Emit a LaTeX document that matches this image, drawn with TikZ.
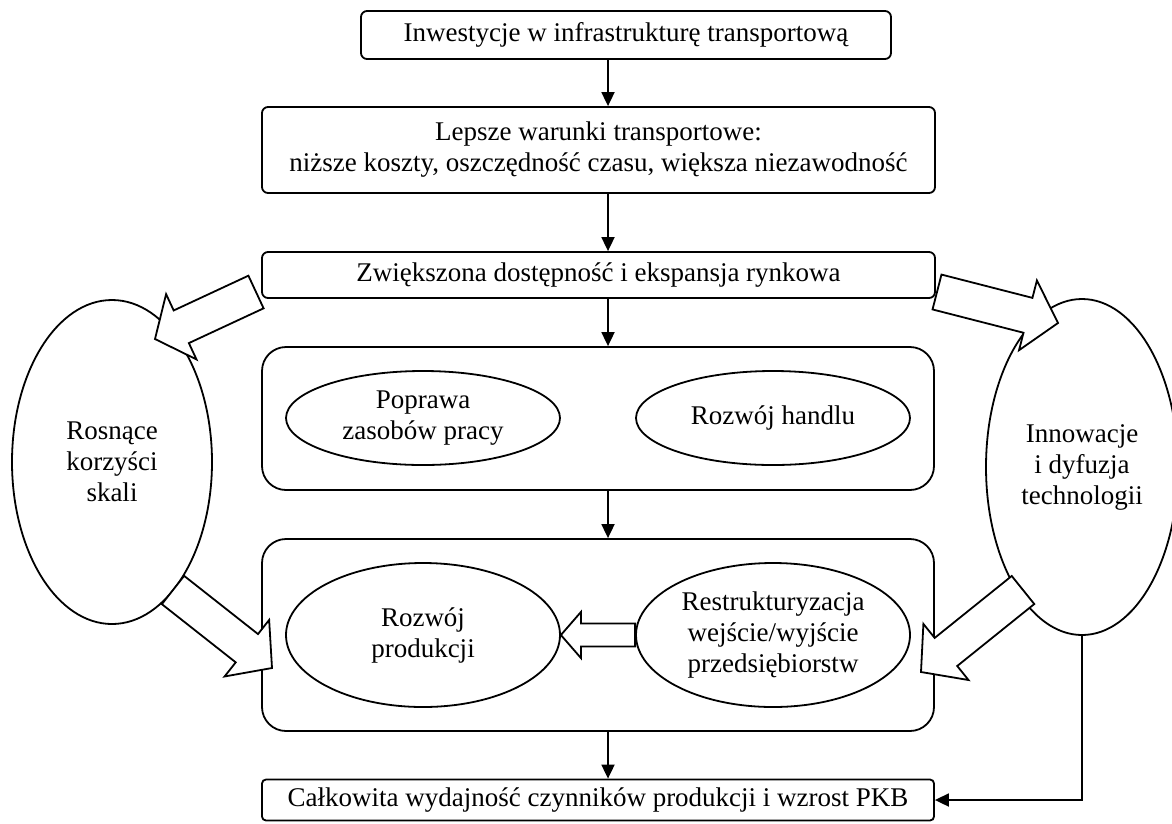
\documentclass[tikz,border=0pt]{standalone}
\usepackage{fontspec}
\setmainfont{Liberation Serif}
\usetikzlibrary{positioning,shapes.geometric,arrows.meta,calc}

\tikzset{
  box/.style={draw, line width=1.8pt, rounded corners=6pt, minimum width=673pt, align=center, inner sep=0pt},
  frame/.style={draw, line width=1.8pt, rounded corners=24pt, minimum width=672pt},
  oval/.style={draw, ellipse, line width=1.8pt, align=center, inner sep=0pt},
  arr/.style={-{Triangle[length=14pt,width=13pt]}, line width=1.8pt},
  fat/.style={draw, fill=white, line width=1.8pt, line join=miter},
}

% hollow block arrow: tail, tip, half shaft, half head, head length
\newcommand{\fatarrow}[5]{%
  \coordinate (fa) at ($(#2)!#5!(#1)$);
  \draw[fat] ($(#1)!#3!90:(#2)$) -- ($(fa)!#3!-90:(#1)$) -- ($(fa)!#4!-90:(#1)$) -- (#2)
    -- ($(fa)!#4!90:(#1)$) -- ($(fa)!#3!90:(#1)$) -- ($(#1)!#3!-90:(#2)$) -- cycle;
}

\begin{document}
\begin{tikzpicture}[x=1pt, y=-1pt, font=\fontsize{27}{31}\selectfont]
\useasboundingbox (0,0) rectangle (1172,823);

% main column
\node[box, minimum width=530pt, minimum height=48pt] (invest) at (626,35) {Inwestycje w infrastrukturę transportową};
\node[box, minimum height=86pt] (cond) at (598.5,150) {Lepsze warunki transportowe:\\niższe koszty, oszczędność czasu, większa niezawodność};
\node[box, minimum height=46pt] (access) at (598.5,275) {Zwiększona dostępność i ekspansja rynkowa};
\node[frame, minimum height=143pt] (mid) at (598,418.5) {};
\node[frame, minimum height=192pt] (low) at (598,635) {};
\node[box, rounded corners=4pt, minimum width=672pt, minimum height=41pt] (tfp) at (598,800) {Całkowita wydajność czynników produkcji i wzrost PKB};

% ellipses inside the two frames
\node[oval, minimum width=274pt, minimum height=94pt] (labour) at (423,418) {Poprawa\\zasobów pracy};
\node[oval, minimum width=274pt, minimum height=94pt] (trade) at (773,418) {Rozwój handlu};
\node[oval, minimum width=274pt, minimum height=144pt] (prod) at (423,635) {Rozwój\\produkcji};
\node[oval, minimum width=274pt, minimum height=144pt] (restr) at (773,635) {Restrukturyzacja\\wejście/wyjście\\przedsiębiorstw};

% side ellipses
\node[oval, minimum width=200pt, minimum height=324pt] (scale) at (112,462) {Rosnące\\korzyści\\skali};
\node[oval, minimum width=192pt, minimum height=336pt] (innov) at (1082,467) {Innowacje\\i dyfuzja\\technologii};

% thin arrows down the middle
\coordinate (axis) at (608,0);
\draw[arr] (invest.south -| axis) -- (cond.north -| axis);
\draw[arr] (cond.south -| axis) -- (access.north -| axis);
\draw[arr] (access.south -| axis) -- (mid.north -| axis);
\draw[arr] (mid.south -| axis) -- (low.north -| axis);
\draw[arr] (low.south -| axis) -- (tfp.north -| axis);
\draw[arr] (innov.south) |- (tfp.east);

% block arrows
\coordinate (lt) at (256,292);  \coordinate (ltend) at (155,339);
\coordinate (rt) at (937,292);  \coordinate (rtend) at (1058,323);
\coordinate (lb) at (173,590);  \coordinate (lbend) at (272,668);
\coordinate (rb) at (1023,590); \coordinate (rbend) at (921,672);
\fatarrow{lt}{ltend}{18pt}{36pt}{29pt}
\fatarrow{rt}{rtend}{18pt}{36pt}{31pt}
\fatarrow{lb}{lbend}{18pt}{36pt}{32pt}
\fatarrow{rb}{rbend}{18pt}{36pt}{32pt}
\fatarrow{restr.west}{prod.east}{11.5pt}{23pt}{20pt}

\end{tikzpicture}
\end{document}
